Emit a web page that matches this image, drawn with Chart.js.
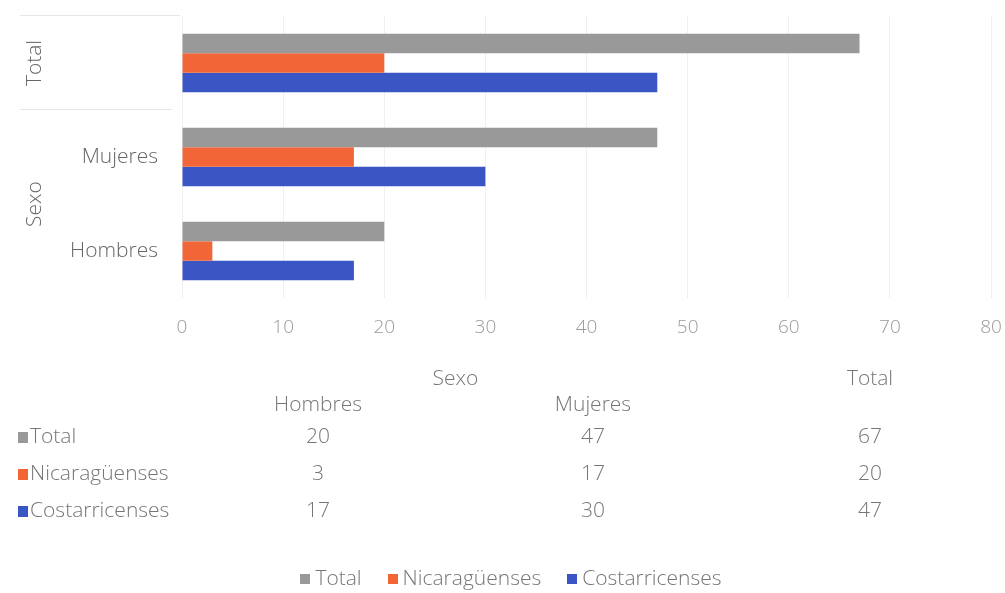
<!DOCTYPE html>
<html>
<head>
<meta charset="utf-8">
<script src="https://cdn.jsdelivr.net/npm/chart.js@4/dist/chart.umd.min.js"></script>
<style>
  html, body { margin: 0; padding: 0; background: #fff; }
  #wrap { width: 1005px; height: 593px; }
</style>
</head>
<body>
<div id="wrap"><canvas id="chart"></canvas></div>
<script>
// categories, top to bottom, with their outer group ('' = no group)
var categories = ['Total', 'Mujeres', 'Hombres'];
var categoryGroups = ['', 'Sexo', 'Sexo'];

// series values, same order as categories
var totalValues = [67, 47, 20];
var nicaValues = [20, 17, 3];
var costaValues = [47, 30, 17];

var seriesNames = ['Total', 'Nicaragüenses', 'Costarricenses'];
var seriesColours = ['#999999', '#f26536', '#3a56c4'];

var xTicks = [0, 10, 20, 30, 40, 50, 60, 70, 80];

var FONT = '"Open Sans", "DejaVu Sans", sans-serif';
var LABEL_COLOUR = '#666666';
var TABLE_COLOUR = '#767676';

function centeredText(ctx, txt, x, y, rotate){
  ctx.save();
  ctx.translate(x, y);
  if (rotate) ctx.rotate(-Math.PI / 2);
  ctx.textAlign = 'center';
  ctx.textBaseline = 'middle';
  ctx.fillText(txt, 0, 0);
  ctx.restore();
}

// draws the two level category labels, the data table and the legend
var extrasPlugin = {
  id: 'extras',
  afterDraw: function(chart){
    var ctx = chart.ctx;
    var y = chart.scales.y;
    var step = Math.abs(y.getPixelForValue(1) - y.getPixelForValue(0));
    ctx.save();

    // separators in the label column
    ctx.strokeStyle = '#e6e6e6';
    ctx.lineWidth = 1;
    var seps = [y.getPixelForValue(0) - step / 2, y.getPixelForValue(0) + step / 2];
    seps.forEach(function(py, k){
      ctx.beginPath();
      ctx.moveTo(20, Math.round(py) - 0.5);
      ctx.lineTo(k == 0 ? 180 : 172, Math.round(py) - 0.5);
      ctx.stroke();
    });

    ctx.fillStyle = LABEL_COLOUR;
    ctx.font = '300 21px ' + FONT;
    var groups = {};
    for (let i = 0; i < categories.length; i++){
      let py = y.getPixelForValue(i);
      if (categoryGroups[i] == ''){
        centeredText(ctx, categories[i], 35, py, true);
      }
      else{
        ctx.textAlign = 'right';
        ctx.textBaseline = 'middle';
        ctx.fillText(categories[i], 158, py);
        if (!groups[categoryGroups[i]]) groups[categoryGroups[i]] = [];
        groups[categoryGroups[i]].push(py);
      }
    }
    for (let g in groups){
      let ys = groups[g];
      let mid = (Math.min.apply(null, ys) + Math.max.apply(null, ys)) / 2;
      centeredText(ctx, g, 35, mid, true);
    }

    // data table: columns run bottom category first
    var colX = [318, 593, 870];
    var cols = [];
    for (let i = categories.length - 1; i >= 0; i--) cols.push(i);
    ctx.font = '300 21px ' + FONT;
    ctx.fillStyle = TABLE_COLOUR;
    ctx.textAlign = 'center';
    ctx.textBaseline = 'middle';
    var groupHeadDone = {};
    cols.forEach(function(ci, c){
      let g = categoryGroups[ci];
      if (g == ''){
        ctx.fillText(categories[ci], colX[c], 379);
      }
      else{
        ctx.fillText(categories[ci], colX[c], 405);
        if (!groupHeadDone[g]){
          let members = [];
          cols.forEach(function(cj, d){ if (categoryGroups[cj] == g) members.push(colX[d]); });
          ctx.fillText(g, (Math.min.apply(null, members) + Math.max.apply(null, members)) / 2, 379);
          groupHeadDone[g] = true;
        }
      }
    });
    var rowY = [437, 474, 511];
    chart.data.datasets.forEach(function(ds, r){
      ctx.fillStyle = ds.backgroundColor;
      ctx.fillRect(18, rowY[r] - 5, 10, 11);
      ctx.fillStyle = TABLE_COLOUR;
      ctx.textAlign = 'left';
      ctx.fillText(ds.label, 30, rowY[r]);
      ctx.textAlign = 'center';
      cols.forEach(function(ci, c){
        ctx.fillText(String(ds.data[ci]), colX[c], rowY[r]);
      });
    });

    // legend along the bottom
    var box = 10, gap = 5, itemGap = 26, legendY = 579, legendCentre = 511;
    var widths = chart.data.datasets.map(function(ds){ return box + gap + ctx.measureText(ds.label).width; });
    var full = widths.reduce(function(a, b){ return a + b; }, 0) + itemGap * (widths.length - 1);
    var lx = legendCentre - full / 2;
    chart.data.datasets.forEach(function(ds, k){
      ctx.fillStyle = ds.backgroundColor;
      ctx.fillRect(Math.round(lx), legendY - 5, box, box);
      ctx.fillStyle = TABLE_COLOUR;
      ctx.textAlign = 'left';
      ctx.fillText(ds.label, lx + box + gap, legendY);
      lx += widths[k] + itemGap;
    });
    ctx.restore();
  }
};

var chart = new Chart(document.getElementById('chart'), {
  type: 'bar',
  data: {
    labels: categories,
    datasets: [
      { label: seriesNames[0], data: totalValues, backgroundColor: seriesColours[0] },
      { label: seriesNames[1], data: nicaValues, backgroundColor: seriesColours[1] },
      { label: seriesNames[2], data: costaValues, backgroundColor: seriesColours[2] }
    ]
  },
  options: {
    indexAxis: 'y',
    responsive: true,
    maintainAspectRatio: false,
    animation: false,
    categoryPercentage: 0.62,
    barPercentage: 1,
    layout: { padding: { top: 16, right: 14, left: 0, bottom: 31 } },
    scales: {
      x: {
        min: xTicks[0],
        max: xTicks[xTicks.length - 1],
        afterBuildTicks: function(s){ s.ticks = xTicks.map(function(v){ return { value: v }; }); },
        afterFit: function(s){ s.height = 264; s.paddingLeft = 0; s.paddingRight = 0; },
        grid: { color: '#f0f0f0', drawTicks: false },
        border: { display: false },
        ticks: { color: '#9a9a9a', font: { family: FONT, size: 19, weight: '300' }, padding: 18 }
      },
      y: {
        afterFit: function(s){ s.width = 182; },
        grid: { display: false },
        border: { display: false },
        ticks: { display: false }
      }
    },
    plugins: {
      legend: { display: false },
      tooltip: { enabled: false }
    }
  },
  plugins: [extrasPlugin]
});
</script>
</body>
</html>
